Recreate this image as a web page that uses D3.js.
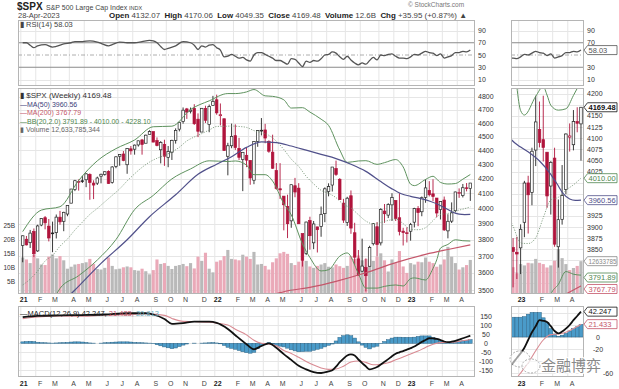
<!DOCTYPE html>
<html>
<head>
<meta charset="utf-8">
<script src="https://cdn.jsdelivr.net/npm/d3@7"></script>
<style>
body { margin: 0; background: #fff; }
svg { font-family: "Liberation Sans", Arial, sans-serif; }
</style>
</head>
<body>
<svg id="chart" width="619" height="389"></svg>
<script>

// weekly bars, first week starting Monday 4-Jan-2021
var firstWeek = "2021-01-04";

var opens = [3764.61,3803.14,3781.88,3851.68,3731.17,3892.59,3939.61,3885.55,3842.51,3844.39,
  3942.96,3916.48,3963.34,4034.44,4124.71,4179.80,4185.14,4191.98,4228.29,4169.14,
  4168.61,4216.52,4229.34,4248.87,4173.40,4284.90,4356.46,4372.41,4296.40,4409.58,
  4406.86,4437.77,4474.10,4450.29,4513.76,4535.38,4469.74,4402.95,4442.12,4348.84,
  4385.44,4471.37,4553.69,4610.62,4707.25,4689.30,4712.00,4628.75,4532.42,4710.30,
  4587.90,4733.99,4778.14,4655.34,4632.24,4356.32,4431.79,4505.75,4412.61,4332.74,
  4363.14,4327.01,4188.82,4462.40,4541.09,4547.97,4462.64,4385.63,4255.34,4130.61,
  4081.27,4013.02,3919.42,4151.09,4134.72,3838.15,3715.31,3920.76,3781.00,3880.94,
  3883.79,3965.72,4112.38,4155.93,4269.37,4195.08,4034.58,3909.43,4083.67,3843.80,
  3682.72,3609.78,3630.66,3638.65,3775.30,3881.85,3780.71,3982.71,3956.23,4023.34,
  4052.02,3939.29,3853.79,3843.34,3853.29,3910.82,3999.28,3978.14,4073.16,4119.57,
  4096.62,4068.41,3992.36,4055.15,3855.76,3917.47,3984.81,4102.20,4085.20,4137.17,
  4132.07];
var highs = [3826.69,3823.60,3861.45,3870.90,3894.70,3937.20,3950.43,3931.33,3914.50,3960.27,
  3983.87,3978.19,4020.63,4129.48,4191.31,4194.17,4218.78,4238.04,4236.39,4188.13,
  4213.42,4234.12,4249.74,4257.16,4286.12,4355.78,4371.60,4393.68,4415.18,4429.97,
  4440.82,4468.37,4481.59,4513.33,4545.85,4535.38,4492.81,4465.40,4475.82,4429.97,
  4475.82,4559.67,4608.08,4718.50,4714.92,4717.75,4743.83,4672.95,4713.57,4731.99,
  4740.74,4808.93,4818.62,4749.50,4632.24,4453.23,4595.31,4590.03,4489.55,4385.34,
  4416.78,4327.01,4465.40,4546.03,4637.30,4593.45,4471.50,4512.94,4308.45,4307.66,
  4081.27,4090.72,4158.49,4204.77,4168.78,3838.15,3913.65,3945.86,3918.50,3880.94,
  4012.44,4140.15,4167.66,4280.47,4325.28,4203.04,4062.99,4076.81,4119.28,3907.07,
  3736.74,3806.91,3685.41,3762.79,3905.42,3911.79,4001.48,4028.84,4034.02,4100.51,
  4052.45,4100.96,3875.13,3878.30,3906.19,4003.95,4015.39,4078.49,4195.44,4182.36,
  4195.44,4068.41,4048.29,4078.49,3962.07,4039.49,4110.75,4133.13,4163.19,4169.48,
  4170.06];
var lows = [3662.71,3764.71,3749.14,3694.12,3725.60,3884.94,3865.30,3789.54,3723.34,3808.03,
  3894.90,3853.50,3949.13,4034.44,4114.95,4118.38,4169.81,4141.45,4056.88,4061.41,
  4156.20,4167.59,4220.34,4164.40,4165.56,4271.93,4289.37,4320.84,4233.13,4367.73,
  4367.73,4425.82,4367.73,4450.29,4513.76,4457.66,4427.76,4305.91,4288.52,4278.94,
  4329.92,4447.47,4537.36,4595.06,4630.86,4672.78,4585.43,4495.12,4532.42,4600.22,
  4531.10,4733.99,4662.74,4582.24,4395.34,4222.62,4414.01,4401.41,4329.39,4114.65,
  4279.54,4157.87,4161.72,4424.30,4507.57,4450.04,4381.34,4267.62,4124.28,4062.51,
  3858.87,3810.32,3875.13,4073.85,3900.16,3636.87,3705.68,3738.67,3742.06,3721.56,
  3818.63,3910.74,4079.81,4112.09,4218.70,4057.66,3906.21,3886.75,3837.08,3647.47,
  3584.13,3604.93,3491.58,3638.65,3764.70,3698.15,3764.70,3906.54,3937.23,3918.39,
  3918.39,3827.10,3764.49,3783.22,3794.33,3877.29,3885.54,3949.06,4037.20,4079.22,
  4047.48,3943.08,3928.16,3855.76,3808.86,3905.52,3974.03,4069.84,4072.55,4113.20,
  4049.35];
var closes = [3824.68,3768.25,3841.47,3714.24,3886.83,3934.83,3906.71,3811.15,3841.94,3943.34,
  3913.10,3974.54,4019.87,4128.80,4185.47,4180.17,4181.17,4232.60,4173.85,4155.86,
  4204.11,4229.89,4247.44,4166.45,4280.70,4352.34,4369.55,4327.16,4411.79,4395.26,
  4436.52,4468.00,4441.67,4509.37,4535.43,4458.58,4432.99,4455.48,4357.04,4391.34,
  4471.37,4544.90,4605.38,4697.53,4682.85,4697.96,4594.62,4538.43,4712.02,4620.64,
  4725.79,4766.18,4677.03,4662.85,4397.94,4431.85,4500.53,4418.64,4348.87,4384.65,
  4328.87,4204.31,4463.12,4543.06,4545.86,4488.28,4392.59,4271.78,4131.93,4123.34,
  4023.89,3901.36,4158.24,4108.54,3900.86,3674.84,3911.74,3825.33,3899.38,3863.16,
  3961.63,4130.29,4145.19,4280.15,4228.48,4057.66,3924.26,4067.36,3873.33,3693.23,
  3585.62,3639.66,3583.07,3752.75,3901.06,3770.55,3992.93,3965.34,4026.12,4071.70,
  3934.38,3852.36,3844.82,3839.50,3895.08,3999.09,3972.61,4070.56,4136.48,4090.46,
  4079.09,3970.04,4045.64,3861.59,3916.64,3970.99,4109.31,4105.02,4137.64,4133.52,
  4169.48];
// weekly volume, billions
var volumes = [13.5,12.8,11.5,14.5,13.2,11.0,10.8,13.8,14.6,13.2,
  14.0,12.5,9.5,10.2,11.0,11.2,11.5,11.8,13.0,11.2,
  9.4,9.2,9.8,13.5,10.5,9.3,9.5,10.0,10.3,10.0,
  9.0,8.8,9.5,8.6,7.5,9.0,12.8,11.2,11.5,10.5,
  9.4,10.5,10.8,11.2,10.4,11.5,9.6,13.8,12.3,15.2,
  9.5,8.2,12.0,12.5,14.0,16.2,13.0,12.8,12.5,14.5,
  13.8,13.0,15.5,11.0,11.2,10.5,9.2,11.8,13.2,15.0,
  15.5,14.8,11.5,10.8,12.0,17.5,12.3,10.3,9.8,10.5,
  11.0,11.5,10.2,10.0,11.0,10.4,9.8,10.5,14.0,13.0,
  14.2,12.5,13.0,12.8,12.3,13.8,15.0,12.5,8.5,12.8,
  11.5,15.8,10.3,8.0,11.5,11.0,12.0,11.8,13.5,12.0,
  11.5,10.2,11.0,12.8,17.3,13.8,11.5,9.2,10.0,10.8,
  12.63];

// overlays: [week index, value]
var ma50 = [[0,3250],[8,3380],[14,3500],[21,3656],[28,3800],[34,3946],[41,4090],[47,4230],
  [52,4300],[56,4353],[60,4420],[64,4460],[68,4455],[72,4430],[76,4400],[80,4370],[84,4340],
  [88,4300],[92,4250],[96,4180],[99,4130],[101.5,4097],[104,4080],[106.5,4066],[109.2,4047],
  [111.8,4021],[113.6,3998],[115.3,3975],[117,3963],[118.5,3960],[120,3960.56]];
var ma200 = [[60,3300],[66,3460],[70,3490],[77,3515],[84,3550],[92,3600],[100,3660],
  [108,3710],[114,3740],[120,3767.79]];
var bbUpper = [[0,3851],[5,3989],[10,4011],[15,4187],[20,4324],[25,4411],[30,4474],[35,4572],
  [40,4576],[45,4703],[50,4770],[55,4827],[57,4827],[60,4840],[62,4859],[65,4809],[67,4805],
  [70,4778],[72,4714],[75,4717],[77,4683],[80,4629],[82,4582],[85,4401],[87,4313],[90,4323],
  [92,4325],[95,4299],[97,4311],[100,4333],[102,4281],[104,4162],[105,4152],[108,4194],
  [110,4216],[111,4197],[112,4174],[114,4163],[116,4166],[118,4196],[120,4228.10]];
var bbMid = [[0,3529],[2,3563],[4,3610],[6,3670],[8,3704],[10,3760],[12,3805],[14,3861],
  [16,3911],[18,3961],[20,4000],[22,4043],[24,4086],[26,4130],[28,4184],[30,4233],[32,4278],
  [34,4315],[36,4342],[38,4362],[40,4387],[42,4421],[44,4467],[46,4496],[48,4521],[50,4547],
  [52,4574],[54,4575],[56,4577],[58,4574],[60,4567],[62,4543],[64,4528],[66,4508],[68,4465],
  [70,4405],[72,4336],[74,4284],[76,4216],[78,4164],[80,4120],[82,4100],[84,4071],[86,4026],
  [88,4003],[90,3959],[92,3918],[94,3900],[96,3909],[98,3922],[100,3931],[102,3902],
  [104,3864],[106,3863],[108,3876],[110,3921],[112,3961],[114,3967],[116,3983],[118,3995],
  [120,4010.00]];
var bbLower = [[0,3207],[5,3295],[10,3509],[15,3583],[20,3676],[25,3801],[30,3992],[35,4086],
  [40,4198],[45,4267],[50,4324],[55,4319],[57,4323],[60,4294],[62,4227],[65,4227],[67,4183],
  [70,4032],[72,3958],[75,3775],[77,3691],[80,3611],[82,3618],[85,3699],[87,3719],[90,3595],
  [92,3511],[95,3511],[97,3521],[100,3529],[102,3523],[104,3566],[105,3570],[108,3558],
  [110,3626],[111,3677],[112,3748],[114,3771],[116,3800],[118,3794],[120,3791.89]];
var rsi = [[0,70],[1,70],[2,66],[3,62],[4,65],[6,67],[8,63],[9,64],[11,68],[13,70],[14,72],
  [16,72],[18,73],[20,71],[21,69],[23,65],[24,67],[26,71],[28,70],[30,70],[32,72],[34,74],
  [35,73],[36,70],[37,64],[38,59],[39,61],[41,65],[43,72],[45,70],[46,66],[47,59],[48,65],
  [49,63],[50,66],[51,67],[52,62],[53,58],[54,47],[55,48],[56,51],[57,48],[58,45],[59,46],
  [60,42],[61,40],[62,50],[63,54],[64,54],[65,51],[66,48],[67,45],[68,41],[69,41],[70,38],
  [71,35],[72,44],[73,43],[74,37],[75,31],[76,40],[77,38],[78,41],[79,40],[80,44],[81,50],
  [82,51],[83,55],[84,53],[85,47],[86,43],[87,48],[88,42],[89,37],[90,34],[91,37],[92,35],
  [93,41],[94,46],[95,42],[96,50],[97,49],[98,51],[99,52],[100,48],[101,45],[102,45],
  [103,44],[104,47],[105,51],[106,50],[107,53],[108,56],[109,54],[110,53],[111,49],[112,52],
  [113,45],[114,47],[115,49],[116,54],[117,54],[118,56],[119,55],[120,58.03]];
var macd = [[0,145],[4,152],[10,155],[16,157],[22,160],[28,167],[33,167],[35,160],[38,135],
  [40,108],[43,112],[46,120],[50,120],[52,114],[55,80],[57,45],[60,-5],[62,-33],[64,-15],
  [66,0],[68,-25],[70,-60],[72,-92],[74,-125],[76,-145],[78,-160],[80,-165],[82,-156],
  [83,-150],[84,-130],[85,-105],[86,-85],[87,-68],[88,-62],[89,-68],[90,-90],[91,-110],
  [92,-128],[93,-145],[94,-140],[95,-132],[96,-118],[97,-103],[98,-88],[99,-72],[100,-58],
  [101,-50],[102,-43],[103,-35],[104,-27],[105,-18],[106,-5],[107,8],[108,18],[109,28],
  [110,27],[111,25],[112,18],[113,10],[114,6],[115,9],[116,14],[117,20],[118,28],[119,35],
  [120,42.247]];
var macdSignal = [[0,137],[4,146],[10,152],[16,150],[22,157],[28,159],[33,165],[35,162],
  [38,155],[40,138],[43,122],[46,121],[50,117],[52,112],[55,102],[57,78],[60,47],[62,17],
  [64,0],[66,-4],[68,-14],[70,-40],[72,-56],[74,-78],[76,-101],[78,-121],[80,-137],
  [82,-145],[84,-143],[86,-127],[88,-104],[90,-98],[92,-106],[94,-119],[96,-116],[98,-108],
  [100,-92],[102,-76],[104,-60],[106,-43],[108,-23],[110,-5],[112,4],[114,5],[116,8],
  [118,14],[120,21.433]];
var macdHist = [8,10,11,9,6,4,3,2,1,2,3,4,5,7,8,
  8,7,5,2,1,0,1,3,4,6,7,8,8,8,7,
  5,4,3,2,1,-2,-8,-14,-20,-25,
  -30,-26,-18,-10,-4,0,1,0,1,2,
  3,4,2,-3,-12,-22,-28,-33,-40,-47,
  -52,-55,-50,-30,-15,-5,4,-3,-11,-16,
  -20,-27,-36,-42,-47,-46,-44,-44,-39,-33,
  -28,-20,-11,-4,13,33,42,47,42,29,
  8,-10,-22,-31,-21,-16,-2,10,20,29,
  34,34,33,33,33,34,38,41,41,41,
  32,24,14,5,1,3,6,10,14,17,
  20.813];

var monthLabels = ["21","F","M","A","M","J","J","A","S","O","N","D",
  "22","F","M","A","M","J","J","A","S","O","N","D","23","F","M","A"];
var priceTicks = [3500,3600,3700,3800,3900,4000,4100,4200,4300,4400,4500,4600,4700,4800];
var insetPriceTicks = [3775,3800,3825,3850,3875,3900,3925,3950,3975,4000,4025,4050,4075,4100,4125,4150,4175,4200];
var volTicks = [5,10,15,20,25];
var rsiTicks = [90,70,50,30,10];
var macdTicks = [150,100,50,0,-50,-100,-150];
var insetMacdTicks = [40,20,0,-20,-40,-60];

var svg = d3.select("#chart");

var week0 = d3.timeParse("%Y-%m-%d")(firstWeek);
var weeks = closes.map(function(c, i) { return d3.timeDay.offset(week0, 7 * i); });
var monthStarts = d3.range(weeks.length).filter(function(i) {
  return i === 0 || weeks[i].getMonth() !== weeks[i - 1].getMonth();
});
var monthTicks = monthStarts.map(function(i, k) { return {i: i, label: monthLabels[k], year: k % 12 === 0}; });

// layout
var mainX = [18, 475], insetX = [511, 584];
var rsiY = [20, 86], priceY = [88, 294], macdY = [306, 377];

var xM = d3.scaleLinear().domain([-1.26, 121.26]).range(mainX);
var xI = d3.scaleLinear().domain([101.45, 120.8]).range(insetX);
var yPriceM = d3.scaleLog().domain([3477.2, 4871.2]).range([294, 88]);
var yPriceI = d3.scaleLinear().domain([3749.5, 4212.8]).range([294, 88]);
var yVolM = d3.scaleLinear().domain([0, 10]).range([295.3, 267.3]);
var yVolI = d3.scaleLinear().domain([0, 10]).range([294, 268]);
var yRsi = d3.scaleLinear().domain([10, 90]).range([79.5, 30.5]);
var yMacdM = d3.scaleLinear().domain([-150, 150]).range([370.3, 316.3]);
var yMacdI = d3.scaleLinear().domain([-20, 20]).range([349, 325]);

var RED = "#b0143c", DARK = "#222";
var gridColor = "#e6e6e6", borderColor = "#b5b5b5";

var clipCount = 0;
function panel(xr, yr) {
  var id = "clip" + (clipCount++);
  svg.append("clipPath").attr("id", id).append("rect")
    .attr("x", xr[0]).attr("y", yr[0]).attr("width", xr[1] - xr[0]).attr("height", yr[1] - yr[0]);
  return svg.append("g").attr("clip-path", "url(#" + id + ")");
}
function border(xr, yr) {
  svg.append("rect").attr("x", xr[0] + 0.5).attr("y", yr[0] + 0.5)
    .attr("width", xr[1] - xr[0] - 1).attr("height", yr[1] - yr[0] - 1)
    .attr("fill", "none").attr("stroke", borderColor).attr("stroke-width", 1);
}
function vGrid(g, xs, yr, lo) {
  g.selectAll(null).data(monthTicks.filter(function(t) { return t.i >= lo; })).enter().append("line")
    .attr("x1", function(t) { return xs(t.i - 0.5); }).attr("x2", function(t) { return xs(t.i - 0.5); })
    .attr("y1", yr[0]).attr("y2", yr[1]).attr("stroke", gridColor).attr("stroke-width", 1);
}
function hGrid(g, ys, ticks, xr) {
  g.selectAll(null).data(ticks).enter().append("line")
    .attr("x1", xr[0]).attr("x2", xr[1])
    .attr("y1", function(d) { return Math.round(ys(d)) + 0.5; })
    .attr("y2", function(d) { return Math.round(ys(d)) + 0.5; })
    .attr("stroke", gridColor).attr("stroke-width", 1);
}
function lineOf(xs, ys) {
  return d3.line().x(function(d) { return xs(d[0]); }).y(function(d) { return ys(d[1]); })
    .curve(d3.curveMonotoneX);
}

function pricePanel(xs, ys, yv, xr, idx, ticks) {
  var g = panel(xr, priceY);
  vGrid(g, xs, priceY, idx[0]);
  hGrid(g, ys, ticks, xr);
  var step = Math.abs(xs(1) - xs(0));
  // volume
  g.selectAll(null).data(idx).enter().append("rect")
    .attr("x", function(i) { return xs(i) - step / 2 + 0.3; })
    .attr("width", step - 0.6)
    .attr("y", function(i) { return yv(volumes[i]); })
    .attr("height", function(i) { return yv(0) - yv(volumes[i]); })
    .attr("fill", function(i) { return i > 0 && closes[i] < closes[i - 1] ? "#eaa9b8" : "#b9b9b9"; });
  // candles
  var bw = step * 0.68;
  var cg = g.selectAll(null).data(idx).enter().append("g");
  function col(i) { var up = i === 0 ? closes[i] >= opens[i] : closes[i] >= closes[i - 1]; return up ? DARK : RED; }
  cg.append("line")
    .attr("x1", function(i) { return xs(i); }).attr("x2", function(i) { return xs(i); })
    .attr("y1", function(i) { return ys(highs[i]); }).attr("y2", function(i) { return ys(lows[i]); })
    .attr("stroke", col).attr("stroke-width", 0.9);
  cg.append("rect")
    .attr("x", function(i) { return xs(i) - bw / 2; }).attr("width", bw)
    .attr("y", function(i) { return ys(Math.max(opens[i], closes[i])); })
    .attr("height", function(i) { return Math.max(0.8, ys(Math.min(opens[i], closes[i])) - ys(Math.max(opens[i], closes[i]))); })
    .attr("fill", function(i) { return closes[i] < opens[i] ? col(i) : "#fff"; })
    .attr("stroke", col).attr("stroke-width", 0.7);
  // overlays
  var ln = lineOf(xs, ys);
  g.append("path").attr("d", ln(bbMid)).attr("fill", "none").attr("stroke", "#6f8f6f")
    .attr("stroke-width", 0.8).attr("stroke-dasharray", "1.2,1.4");
  g.append("path").attr("d", ln(bbUpper)).attr("fill", "none").attr("stroke", "#5e925e").attr("stroke-width", 1);
  g.append("path").attr("d", ln(bbLower)).attr("fill", "none").attr("stroke", "#5e925e").attr("stroke-width", 1);
  g.append("path").attr("d", ln(ma200)).attr("fill", "none").attr("stroke", "#c4566a").attr("stroke-width", 1.2);
  g.append("path").attr("d", ln(ma50)).attr("fill", "none").attr("stroke", "#50508a").attr("stroke-width", 1.2);
}

function rsiPanel(xs, xr, lo) {
  var g = panel(xr, rsiY);
  vGrid(g, xs, rsiY, lo);
  hGrid(g, yRsi, [90, 10], xr);
  [70, 30].forEach(function(v) {
    g.append("line").attr("x1", xr[0]).attr("x2", xr[1]).attr("y1", yRsi(v)).attr("y2", yRsi(v))
      .attr("stroke", "#8a8a8a").attr("stroke-width", 1);
  });
  g.append("line").attr("x1", xr[0]).attr("x2", xr[1]).attr("y1", yRsi(50)).attr("y2", yRsi(50))
    .attr("stroke", "#999").attr("stroke-width", 0.8).attr("stroke-dasharray", "4,2,1,2");
  g.append("path").attr("d", lineOf(xs, yRsi)(rsi.filter(function(d) { return d[0] >= lo - 2; })))
    .attr("fill", "none").attr("stroke", "#555").attr("stroke-width", 1.3);
}

function macdPanel(xs, ys, xr, idx, ticks) {
  var g = panel(xr, macdY);
  vGrid(g, xs, macdY, idx[0]);
  hGrid(g, ys, ticks, xr);
  var step = Math.abs(xs(1) - xs(0));
  g.selectAll(null).data(idx).enter().append("rect")
    .attr("x", function(i) { return xs(i) - step / 2; }).attr("width", step)
    .attr("y", function(i) { return Math.min(ys(0), ys(macdHist[i])); })
    .attr("height", function(i) { return Math.abs(ys(macdHist[i]) - ys(0)); })
    .attr("fill", "#4a9bc9").attr("stroke", "#2f6687").attr("stroke-width", 0.5);
  var ln = lineOf(xs, ys);
  g.append("path").attr("d", ln(macdSignal)).attr("fill", "none").attr("stroke", "#d98b93").attr("stroke-width", 1.1);
  g.append("path").attr("d", ln(macd)).attr("fill", "none").attr("stroke", "#111").attr("stroke-width", 1.8);
}

var allIdx = d3.range(closes.length);
var insetIdx = d3.range(102, closes.length);

rsiPanel(xM, mainX, 0);
rsiPanel(xI, insetX, 102);
pricePanel(xM, yPriceM, yVolM, mainX, allIdx, priceTicks);
pricePanel(xI, yPriceI, yVolI, insetX, insetIdx, insetPriceTicks);
macdPanel(xM, yMacdM, mainX, allIdx, macdTicks);
macdPanel(xI, yMacdI, insetX, insetIdx, insetMacdTicks);

[rsiY, priceY, macdY].forEach(function(yr) { border(mainX, yr); border(insetX, yr); });

function txt(x, y, s, opts) {
  opts = opts || {};
  var t = svg.append("text").attr("x", x).attr("y", y).text(s)
    .attr("font-size", opts.size || 7).attr("fill", opts.fill || "#333");
  if (opts.anchor) t.attr("text-anchor", opts.anchor);
  if (opts.bold) t.attr("font-weight", "bold");
  return t;
}

// value tags on the inset axis
var tags = [
  {y: yRsi(58.03), s: "58.03", c: "#555"},
  {y: yPriceI(4169.48), s: "4169.48", c: "#111", bold: true},
  {y: yPriceI(4010), s: "4010.00", c: "#4f864f"},
  {y: yPriceI(3960.56), s: "3960.56", c: "#50508a"},
  {y: yVolI(12.63), s: "12633785", c: "#888", size: 6.3},
  {y: 277.5, s: "3791.89", c: "#4f864f"},
  {y: 289, s: "3767.79", c: "#c4566a"},
  {y: yMacdI(42.247), s: "42.247", c: "#111"},
  {y: yMacdI(21.433), s: "21.433", c: "#c4566a"}
];
function freeOfTags(y) {
  return tags.every(function(t) { return Math.abs(t.y - y) > 6.5; });
}

// axis labels
priceTicks.forEach(function(v) { txt(478, yPriceM(v) + 2.5, v); });
insetPriceTicks.filter(function(v) { return freeOfTags(yPriceI(v)); })
  .forEach(function(v) { txt(587, yPriceI(v) + 2.5, v); });
rsiTicks.forEach(function(v) { txt(478, yRsi(v) + 2.5, v); });
rsiTicks.filter(function(v) { return freeOfTags(yRsi(v)); })
  .forEach(function(v) { txt(587, yRsi(v) + 2.5, v); });
macdTicks.forEach(function(v) { txt(486, yMacdM(v) + 2.5, v, {anchor: "middle"}); });
insetMacdTicks.filter(function(v) { return freeOfTags(yMacdI(v)) && v !== -40; })
  .forEach(function(v) { txt(v === -60 ? 608 : 598, yMacdI(v) + 2.5, v, {anchor: "middle"}); });
volTicks.forEach(function(v) { txt(15, yVolM(v) + 2.3, v + "B", {anchor: "end", size: 6.5}); });

[301.5, 386].forEach(function(y) {
  monthTicks.forEach(function(t) {
    txt(xM(t.i) + (t.year ? 1 : 2.5), y, t.label, {anchor: "middle", bold: t.year, fill: t.year ? "#222" : "#444"});
  });
  monthTicks.filter(function(t) { return t.i >= 103; }).forEach(function(t) {
    txt(xI(t.i) + (t.year ? 1 : 2.5), y, t.label, {anchor: "middle", bold: t.year, fill: t.year ? "#222" : "#444"});
  });
});

tags.forEach(function(t) {
  var x = 584, w = 33, y = t.y;
  svg.append("path")
    .attr("d", "M" + x + "," + y + "L" + (x + 3.5) + "," + (y - 4.5) + "L" + (x + w) + "," + (y - 4.5) +
      "L" + (x + w) + "," + (y + 4.5) + "L" + (x + 3.5) + "," + (y + 4.5) + "Z")
    .attr("fill", "#fff").attr("stroke", t.c).attr("stroke-width", 0.8);
  txt(x + 4.5, y + 2.6, t.s, {fill: t.c, size: t.size || 7.5, bold: t.bold});
});

// header
txt(17, 10, "$SPX", {size: 10, bold: true, fill: "#222"});
txt(46, 9.5, "S&P 500 Large Cap Index", {size: 7, fill: "#444"});
txt(129, 9.5, "INDX", {size: 5.5, fill: "#444"});
txt(408, 6.5, "\u00a9 StockCharts.com", {size: 6.5, fill: "#777"});
txt(18, 18, "28-Apr-2023", {size: 7.5, fill: "#444"});
var hdr = svg.append("text").attr("x", 109).attr("y", 18).attr("font-size", 7.8)
  .attr("textLength", 358).attr("lengthAdjust", "spacingAndGlyphs").attr("xml:space", "preserve");
[["Open", 1], [" 4132.07  "], ["High", 1], [" 4170.06  "], ["Low", 1], [" 4049.35  "],
 ["Close", 1], [" 4169.48  "], ["Volume", 1], [" 12.6B  "], ["Chg", 1], [" +35.95 (+0.87%) \u25b2"]]
  .forEach(function(p) {
    hdr.append("tspan").text(p[0]).attr("font-weight", p[1] ? "bold" : "normal")
      .attr("fill", p[1] ? "#222" : "#444");
  });

// panel legends
txt(20, 27, "\u25ae RSI(14) 58.03", {size: 7.5, fill: "#444"});
txt(20, 98, "\u25ae $SPX (Weekly) 4169.48", {size: 8, fill: "#333"});
txt(20, 106.5, "\u2014MA(50) 3960.56", {size: 7, fill: "#40407a"});
txt(20, 115, "\u2014MA(200) 3767.79", {size: 7, fill: "#c4566a"});
txt(20, 123.5, "\u2014BB(20,2.0) 3791.89 - 4010.00 - 4228.10", {size: 7, fill: "#4f864f"});
txt(20, 132, "\u25ae Volume 12,633,785,344", {size: 7, fill: "#666"});
var ml = txt(20, 316, "", {size: 7.5});
ml.append("tspan").attr("fill", "#222").text("\u2014MACD(12,26,9) 42.247, ");
ml.append("tspan").attr("fill", "#c4566a").text("21.433, ");
ml.append("tspan").attr("fill", "#6aaebf").text("20.813");

// watermark
var wm = svg.append("g");
wm.append("ellipse").attr("cx", 520).attr("cy", 359).attr("rx", 10).attr("ry", 8)
  .attr("fill", "rgba(255,255,255,0.6)").attr("stroke", "#aaa").attr("stroke-dasharray", "2,1.5");
wm.append("ellipse").attr("cx", 531).attr("cy", 366).attr("rx", 9).attr("ry", 7)
  .attr("fill", "rgba(255,255,255,0.6)").attr("stroke", "#aaa").attr("stroke-dasharray", "2,1.5");
wm.append("text").attr("x", 541).attr("y", 371).text("金融博弈")
  .attr("font-family", "Noto Sans CJK SC").attr("font-size", 15)
  .attr("fill", "#8a8a8a").attr("stroke", "#fff").attr("stroke-width", 2.5)
  .attr("paint-order", "stroke");

</script>
</body>
</html>
